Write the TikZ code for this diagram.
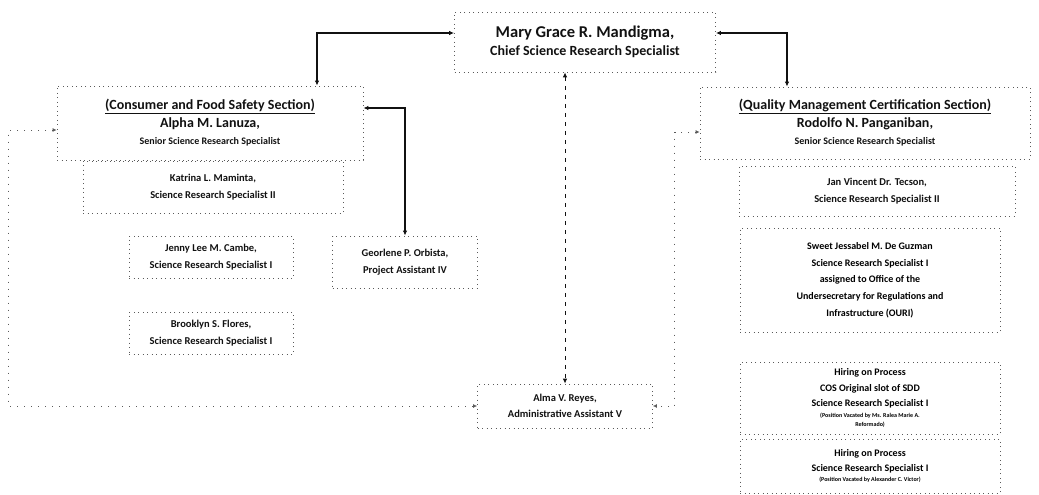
\documentclass[tikz,border=0pt]{standalone}
\usepackage{fontspec}
\setmainfont{Carlito}
\usetikzlibrary{arrows.meta,positioning,calc}
\definecolor{ScanInk}{HTML}{111111}
\definecolor{ScanGray}{HTML}{5A5A5A}
\tikzset{
  orgbox/.style={draw=ScanGray, dash pattern=on 0.9pt off 3.6pt, line width=0.8pt,
                 align=center, inner sep=2pt, font=\fontsize{10.5}{16.5}\selectfont\bfseries\color{ScanInk}},
  headbox/.style={orgbox, font=\fontsize{14}{17.5}\selectfont\bfseries\color{ScanInk}},
  biarrow/.style={{Latex[length=5pt,width=4.5pt]}-{Latex[length=5pt,width=4.5pt]},
                  line width=1.1pt, ScanInk},
  dasharrow/.style={biarrow, line width=0.9pt, dash pattern=on 4pt off 5pt},
  faintarrow/.style={{Latex[length=4pt,width=4pt]}-{Latex[length=4pt,width=4pt]},
                     line width=0.8pt, ScanGray, dash pattern=on 1pt off 6pt},
}
\newcommand{\smallnote}{\fontsize{6}{7}\selectfont}
\newcommand{\postline}{\fontsize{10}{12}\selectfont}

\begin{document}
\begin{tikzpicture}[x=1pt,y=-1pt]
  \useasboundingbox (0,0) rectangle (1039,495);

  % ---- Chief ----
  \node[headbox, minimum width=261pt, minimum height=60pt] (chief) at (585,42)
       {{\fontsize{16.5}{18}\selectfont Mary Grace R. Mandigma,}\\Chief Science Research Specialist};

  % ---- Consumer and Food Safety Section (left) ----
  \node[headbox, minimum width=306pt, minimum height=74pt] (cfs) at (210,123)
       {\underline{(Consumer and Food Safety Section)}\\Alpha M. Lanuza,\\{\postline Senior Science Research Specialist}};
  \node[orgbox, minimum width=260pt, minimum height=52pt] (katrina) at (213,187)
       {Katrina L. Maminta,\\Science Research Specialist II};
  \node[orgbox, minimum width=164pt, minimum height=42pt] (jenny) at (211,257)
       {Jenny Lee M. Cambe,\\Science Research Specialist I};
  \node[orgbox, minimum width=164pt, minimum height=42pt] (brooklyn) at (211,333)
       {Brooklyn S. Flores,\\Science Research Specialist I};
  \node[orgbox, minimum width=145pt, minimum height=52pt] (georlene) at (405,262)
       {Georlene P. Orbista,\\Project Assistant IV};

  % ---- Administrative ----
  \node[orgbox, minimum width=175pt, minimum height=44pt] (alma) at (565,406)
       {Alma V. Reyes,\\Administrative Assistant V};

  % ---- Quality Management Certification Section (right) ----
  \node[headbox, minimum width=330pt, minimum height=72pt] (qmc) at (865,123)
       {\underline{(Quality Management Certification Section)}\\Rodolfo N. Panganiban,\\{\postline Senior Science Research Specialist}};
  \node[orgbox, minimum width=276pt, minimum height=50pt] (jan) at (877,191)
       {Jan Vincent Dr. Tecson,\\Science Research Specialist II};
  \node[orgbox, minimum width=260pt, minimum height=104pt, font=\fontsize{10}{16.7}\selectfont\bfseries] (sweet) at (870,280)
       {Sweet Jessabel M. De Guzman\\Science Research Specialist I\\assigned to Office of the\\Undersecretary for Regulations and\\Infrastructure (OURI)};
  \node[orgbox, minimum width=260pt, minimum height=72pt, font=\fontsize{10}{15.5}\selectfont\bfseries] (hire1) at (870,398)
       {Hiring on Process\\COS Original slot of SDD\\Science Research Specialist I\\[-5pt]
        {\smallnote (Position Vacated by Ms. Ralea Marie A.}\\[-6pt]{\smallnote Reformado)}};
  \node[orgbox, minimum width=260pt, minimum height=54pt, font=\fontsize{10}{14.5}\selectfont\bfseries] (hire2) at (870,466)
       {Hiring on Process\\Science Research Specialist I\\[-4pt]
        {\smallnote (Position Vacated by Alexander C. Victor)}};

  % ---- Arrows ----
  \draw[biarrow] ([yshift=9pt]chief.west) -| ([xshift=107pt]cfs.north);
  \draw[biarrow] ([yshift=9pt]chief.east) -| ([xshift=-78pt]qmc.north);
  \draw[dasharrow] (chief.south -| alma.north) -- (alma.north);
  \draw[biarrow] ([yshift=15pt]cfs.east) -| (georlene.north);
  \draw[faintarrow] ([yshift=-7pt]cfs.west) -- ++(-48,0) |- (alma.west);
  \draw[faintarrow] ([yshift=-9pt]qmc.west) -- ++(-25,0) |- (alma.east);

\end{tikzpicture}
\end{document}
